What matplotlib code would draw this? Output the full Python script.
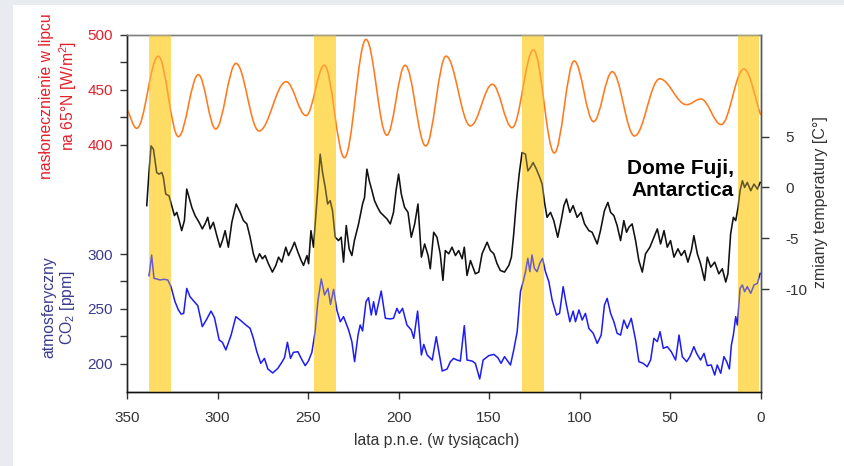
import matplotlib
matplotlib.use('Agg')
import matplotlib.pyplot as plt
from matplotlib.path import Path
from matplotlib.patches import PathPatch, Rectangle

plt.rcParams['font.family'] = ['Liberation Sans', 'DejaVu Sans']
plt.rcParams['mathtext.fontset'] = 'custom'
plt.rcParams['mathtext.rm'] = 'Liberation Sans'
plt.rcParams['mathtext.it'] = 'Liberation Sans:italic'
plt.rcParams['mathtext.bf'] = 'Liberation Sans:bold'

# ---------------- data ----------------
# July insolation at 65N (extremes of the curve + end points), W/m2
ins_age = [350, 344.6, 332.7, 321.6, 310.6, 301.0, 289.8, 277.1, 262.1, 251.1,
           241.0, 229.9, 218.0, 206.5, 196.4, 185.0, 173.8, 160.3, 148.2, 137.3,
           125.5, 114.0, 103.0, 92.3, 82.0, 69.7, 55.8, 41.0, 33.0, 21.8, 9.3, 0]
ins_val = [432.5, 414.8, 480.6, 407.2, 463.8, 414.2, 474.1, 412.4, 457.4, 426.4,
           472.4, 388.0, 496.0, 408.5, 472.4, 398.7, 480.7, 417.0, 455.0, 415.4,
           486.3, 392.3, 476.3, 420.9, 466.5, 407.8, 460.0, 436.4, 441.6, 418.2, 469.0, 427.0]

# Dome Fuji temperature change, deg C
temp_age = [339.1, 337.8, 336.7, 335.4, 333.6, 332.3, 330.8, 329.9, 328.6, 326.8,
            325.3, 323.8, 322.5, 321.2, 319.8, 318.3, 317.0, 315.7, 314.2, 312.4,
            310.2, 308.4, 306.9, 305.4, 304.1, 302.3, 300.4, 298.6, 297.3, 295.8,
            294.0, 292.1, 289.7, 287.5, 285.7, 283.8, 282.0, 280.2, 278.7, 276.8,
            275.2, 273.7, 271.9, 269.7, 267.8, 266.3, 264.5, 262.3, 260.8, 259.0,
            257.5, 255.6, 253.8, 252.5, 250.6, 249.7, 248.4, 247.0, 245.1, 243.3,
            242.0, 240.5, 239.2, 237.8, 236.5, 235.0, 233.2, 231.7, 230.4, 228.9,
            227.3, 225.8, 224.4, 222.1, 219.9, 218.8, 217.5, 216.2, 214.7, 213.3,
            211.6, 210.1, 208.3, 206.4, 204.6, 202.8, 201.4, 200.0, 198.5, 196.7,
            194.8, 193.0, 191.1, 189.3, 187.4, 185.6, 183.7, 182.5, 180.6, 178.8,
            177.0, 175.5, 174.2, 172.3, 170.5, 168.6, 166.8, 164.9, 163.7, 162.2,
            160.3, 157.6, 155.7, 153.9, 151.1, 149.3, 147.4, 145.6, 143.8, 141.5,
            139.1, 137.7, 136.4, 134.9, 133.4, 131.8, 129.9, 128.6, 127.2, 125.7,
            123.9, 122.0, 120.7, 119.4, 118.0, 116.1, 114.3, 112.1, 110.2, 108.7,
            107.3, 105.4, 103.6, 101.4, 99.2, 97.3, 94.9, 93.1, 90.3, 88.5,
            86.3, 84.4, 82.9, 81.1, 79.3, 77.4, 75.6, 74.1, 72.8, 71.0,
            69.1, 67.3, 65.4, 63.6, 61.2, 59.0, 57.1, 55.3, 53.4, 51.6,
            49.8, 47.9, 45.7, 43.9, 42.0, 40.2, 38.3, 36.9, 35.0, 33.2,
            31.0, 29.5, 27.6, 25.4, 23.1, 21.2, 19.3, 18.1, 16.6, 15.1,
            13.8, 12.5, 11.4, 10.1, 8.9, 7.4, 5.5, 3.7, 1.8, 0.3]
temp_val = [-1.79, 1.64, 4.09, 3.76, 1.47, 1.31, 1.47, 0.98, -0.65, -0.82,
            -1.79, -2.77, -2.45, -3.26, -4.25, -3.26, -0.16, -0.98, -1.96, -2.77,
            -3.43, -4.08, -3.59, -2.94, -4.08, -3.43, -4.74, -5.88, -5.23, -4.25,
            -5.88, -3.43, -1.63, -2.45, -3.26, -3.59, -4.90, -6.53, -7.35, -6.53,
            -7.02, -6.70, -7.51, -8.33, -7.67, -6.86, -7.35, -5.88, -6.70, -6.04,
            -5.39, -6.37, -7.19, -7.67, -6.70, -7.51, -4.25, -5.88, -1.30, 3.27,
            1.47, 0.00, -1.63, -1.30, -2.28, -4.90, -5.23, -4.90, -7.35, -3.75,
            -6.04, -6.70, -5.23, -3.59, -1.63, -0.98, 1.80, 0.66, -0.32, -1.30,
            -1.96, -2.45, -2.77, -3.10, -3.59, -2.45, -0.32, 1.31, -0.65, -1.96,
            -2.45, -4.90, -3.59, -1.63, -6.86, -5.56, -6.70, -8.00, -4.41, -4.90,
            -6.53, -9.15, -6.21, -6.53, -5.88, -6.70, -6.21, -7.02, -5.88, -8.66,
            -7.19, -8.50, -8.33, -6.53, -5.39, -6.21, -6.53, -7.51, -8.17, -8.33,
            -7.67, -6.86, -4.57, -1.30, 1.31, 3.43, 3.27, 1.63, 1.96, 2.45,
            1.80, 0.98, 0.33, -1.47, -2.94, -2.45, -3.26, -4.90, -3.26, -1.79,
            -1.14, -2.45, -1.79, -2.94, -2.45, -3.59, -4.25, -4.41, -5.56, -4.25,
            -2.28, -1.47, -2.45, -2.77, -3.75, -5.23, -3.26, -4.41, -3.92, -3.59,
            -5.23, -7.19, -8.33, -6.53, -5.88, -4.90, -4.08, -5.56, -4.25, -5.88,
            -5.23, -6.86, -6.04, -6.70, -6.21, -7.35, -6.21, -4.74, -6.53, -7.51,
            -9.15, -6.86, -7.84, -7.35, -8.50, -8.00, -9.31, -8.50, -4.57, -2.94,
            -3.26, -1.96, -0.32, 0.66, 0.00, 0.49, -0.32, 0.33, -0.16, 0.49]

# atmospheric CO2, ppm
co2_age = [337.8, 336.4, 335.1, 333.6, 331.8, 329.4, 327.5, 325.7, 323.5, 321.6,
           320.1, 318.7, 317.0, 315.2, 312.8, 310.9, 308.4, 305.9, 303.6, 301.7,
           299.1, 297.3, 295.4, 292.5, 289.9, 287.5, 284.8, 282.0, 280.2, 278.3,
           276.1, 274.1, 272.2, 269.5, 266.7, 264.5, 263.0, 261.4, 259.7, 258.1,
           255.6, 253.8, 251.6, 249.8, 247.9, 246.1, 244.6, 242.7, 240.9, 239.0,
           237.6, 235.9, 234.1, 232.2, 230.4, 227.6, 225.8, 224.3, 222.4, 221.2,
           219.9, 218.0, 216.6, 215.1, 213.8, 212.5, 209.6, 207.3, 204.6, 202.8,
           200.9, 199.6, 197.8, 195.4, 193.0, 191.6, 189.5, 187.4, 186.1, 184.2,
           181.4, 179.2, 175.9, 173.2, 171.4, 169.6, 167.7, 165.9, 163.7, 162.2,
           159.4, 157.6, 155.2, 153.3, 150.2, 147.4, 145.2, 143.4, 141.5, 138.2,
           136.4, 134.5, 132.7, 131.2, 129.9, 128.6, 127.5, 126.3, 125.0, 123.5,
           122.0, 120.5, 118.9, 117.0, 115.2, 112.8, 111.1, 109.1, 107.3, 105.4,
           103.6, 102.3, 100.4, 98.6, 96.8, 94.9, 92.5, 90.3, 88.1, 86.3,
           84.8, 82.9, 81.1, 79.3, 77.4, 75.6, 73.7, 71.5, 69.1, 67.3,
           64.9, 62.7, 60.8, 59.0, 57.1, 55.6, 53.8, 51.6, 49.4, 47.0,
           45.1, 43.3, 40.9, 39.1, 36.9, 35.4, 33.2, 31.3, 29.5, 27.3,
           25.4, 24.0, 22.1, 20.3, 18.8, 17.3, 16.2, 15.1, 13.8, 12.9,
           11.4, 10.1, 8.9, 7.4, 5.5, 3.7, 1.8, 0.3]
co2_val = [280.3, 299.2, 277.9, 277.3, 276.4, 277.0, 276.4, 270.3, 256.6, 249.0,
           245.3, 245.9, 268.7, 261.1, 256.6, 252.9, 233.8, 240.8, 248.0, 242.0,
           221.6, 219.5, 212.5, 226.1, 242.9, 239.8, 235.9, 232.2, 223.1, 210.9,
           200.3, 204.8, 195.1, 191.5, 195.7, 201.2, 205.5, 219.5, 204.8, 210.3,
           210.9, 204.8, 198.2, 202.4, 210.3, 229.2, 256.6, 277.3, 262.7, 268.7,
           254.1, 267.8, 249.0, 238.3, 242.9, 230.7, 220.1, 201.8, 226.1, 235.3,
           229.8, 256.6, 260.2, 244.4, 256.6, 244.4, 266.3, 241.4, 240.8, 241.4,
           250.5, 245.9, 250.5, 235.3, 230.7, 223.1, 248.0, 207.9, 217.6, 207.9,
           203.3, 224.6, 193.3, 195.1, 201.8, 204.8, 203.3, 202.4, 234.7, 203.3,
           202.4, 200.3, 186.0, 203.3, 207.3, 208.5, 205.5, 200.3, 206.4, 198.8,
           212.5, 229.2, 265.7, 274.8, 284.0, 296.1, 284.0, 299.2, 287.0, 284.0,
           291.6, 296.1, 284.0, 274.8, 258.1, 244.4, 245.9, 270.3, 253.5, 238.3,
           248.0, 238.3, 249.0, 239.8, 245.9, 232.2, 227.7, 218.5, 226.1, 253.5,
           259.6, 245.9, 238.3, 227.7, 226.1, 239.8, 232.2, 241.4, 221.6, 201.8,
           200.3, 197.2, 203.3, 223.1, 220.1, 229.2, 214.0, 215.5, 210.9, 203.3,
           226.1, 206.4, 201.8, 206.4, 215.5, 209.4, 203.3, 209.4, 198.2, 198.8,
           189.6, 198.8, 191.2, 206.4, 201.8, 195.1, 217.0, 226.1, 242.9, 235.3,
           268.7, 271.8, 265.7, 270.3, 264.2, 271.8, 273.3, 282.4]

# interglacial periods (kyr BP)
warm_start = [337.7, 246.7, 131.8, 12.6]
warm_end = [325.9, 234.7, 119.8, 0.7]

x_ticks = [350, 300, 250, 200, 150, 100, 50, 0]
left_ticks = [200, 225, 250, 275, 300, 400, 425, 450, 475, 500]
left_labels = ['200', '', '250', '', '300', '400', '', '450', '', '500']
right_ticks = [5, 0, -5, -10]
right_labels = ['5', '0', '-5', '-10']

# ---------------- styling ----------------
RED = '#e3202b'
NAVY = '#3b3b8e'
ORANGE = '#ff7a1c'
BLUE = '#1c1cf5'
YELLOW = '#ffdc64'
GREY = '#333333'

fig = plt.figure(figsize=(8.44, 4.66), dpi=100)
fig.patch.set_facecolor('#e8ebef')
fig.add_artist(Rectangle((13 / 844, 0), 831 / 844, 461 / 466, transform=fig.transFigure,
                         facecolor='white', edgecolor='none', zorder=-5))

ax = fig.add_axes([127 / 844, 1 - 391.7 / 466, 633.7 / 844, 356.7 / 466])
ax.set_xlim(350, 0)
ax.set_ylim(174.4, 500)

for s, e in zip(warm_start, warm_end):
    ax.axvspan(s, e, color=YELLOW, lw=0, zorder=1)

# insolation: smooth curve through the read extremes (horizontal tangents at extremes)
verts = [(ins_age[0], ins_val[0])]
codes = [Path.MOVETO]
n = len(ins_age)
k = 0.364
for i in range(n - 1):
    t0, v0, t1, v1 = ins_age[i], ins_val[i], ins_age[i + 1], ins_val[i + 1]
    dt = t1 - t0
    if i == 0:
        c1 = (t0 + dt / 3, v0 + (v1 - v0) / 3)
    else:
        c1 = (t0 + k * dt, v0)
    if i == n - 2:
        c2 = (t1 - dt / 3, v1 - (v1 - v0) / 3)
    else:
        c2 = (t1 - k * dt, v1)
    verts += [c1, c2, (t1, v1)]
    codes += [Path.CURVE4] * 3
ax.add_patch(PathPatch(Path(verts, codes), fill=False, edgecolor=ORANGE, lw=1.15, zorder=3))

ax.plot(co2_age, co2_val, color=BLUE, lw=1.1, zorder=3)

ax2 = ax.twinx()
ax2.set_ylim(-20.1, 15.0)
ax2.plot(temp_age, temp_val, color='#111111', lw=1.15, zorder=3)

# translucent veil of the interglacial bands over the curves
for s, e in zip(warm_start, warm_end):
    ax2.axvspan(s, e, color=YELLOW, alpha=0.35, lw=0, zorder=4)

# ticks
ax.set_xticks(x_ticks)
ax.set_xticklabels([str(t) for t in x_ticks])
ax.set_yticks(left_ticks)
ax.set_yticklabels(left_labels)
for lab, val in zip(ax.get_yticklabels(), left_ticks):
    lab.set_color(RED if val >= 400 else NAVY)
ax.tick_params(axis='x', direction='out', length=5, width=1, color=GREY, labelcolor=GREY,
               labelsize=11, pad=9)
ax.tick_params(axis='y', direction='out', length=5, width=1, color=GREY, labelsize=11, pad=5)
ax2.set_yticks(right_ticks)
ax2.set_yticklabels(right_labels)
ax2.tick_params(axis='y', direction='out', length=6, width=1, color=GREY, labelcolor=GREY,
                labelsize=11, pad=12)

for a in (ax, ax2):
    a.spines['top'].set_color('#808080')
    a.spines['left'].set_color('#222222')
    a.spines['bottom'].set_color('#111111')
    a.spines['right'].set_color('#555555')
    for sp in a.spines.values():
        sp.set_linewidth(1.0)
ax2.patch.set_visible(False)

# labels
fig.text(59 / 844, 1 - 96 / 466, 'nasłonecznienie w lipcu\nna 65°N [W/m$^2$]', rotation=90,
         ha='center', va='center', color=RED, fontsize=11.3, linespacing=1.15, multialignment='center')
fig.text(59 / 844, 1 - 307 / 466, 'atmosferyczny\nCO$_2$ [ppm]', rotation=90,
         ha='center', va='center', color=NAVY, fontsize=11.3, linespacing=1.15, multialignment='center')
fig.text(821 / 844, 1 - 202 / 466, 'zmiany temperatury [C°]', rotation=90,
         ha='center', va='center', color=GREY, fontsize=11.5)
fig.text(437 / 844, 1 - 440 / 466, 'lata p.n.e. (w tysiącach)', ha='center', va='center',
         color=GREY, fontsize=11.3)
fig.text(734 / 844, 1 - 180 / 466, 'Dome Fuji,\nAntarctica', ha='right', va='center',
         color='black', fontsize=15, fontweight='bold', linespacing=1.2, multialignment='right')

fig.savefig('out.png', dpi=100, facecolor=fig.get_facecolor())
